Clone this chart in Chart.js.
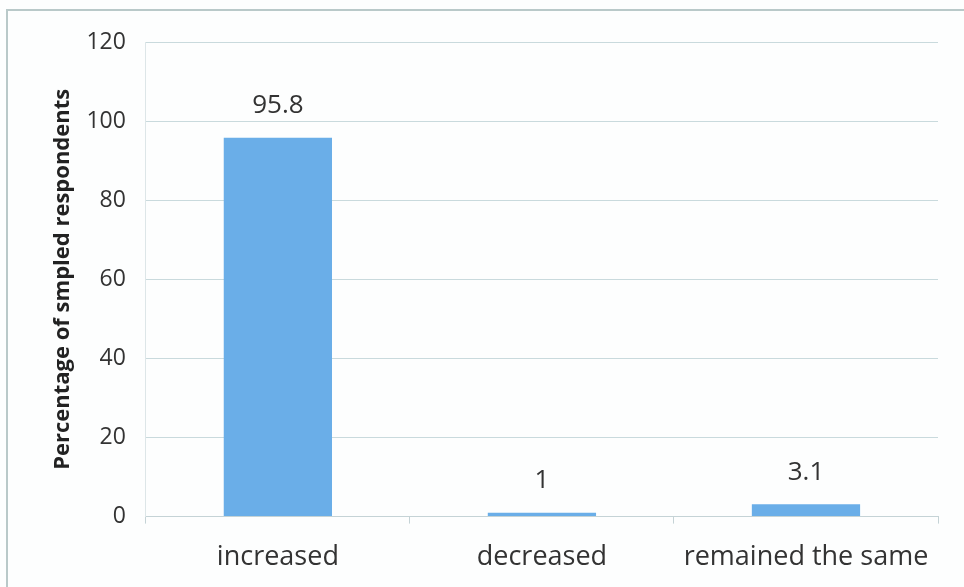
<!DOCTYPE html>
<html>
<head>
<meta charset="utf-8">
<script src="https://cdn.jsdelivr.net/npm/chart.js@4.4.1/dist/chart.umd.min.js"></script>
<style>
  html, body { margin: 0; padding: 0; background: #fdfefe; }
  #wrap { width: 964px; height: 587px; }
</style>
</head>
<body>
<div id="wrap"><canvas id="myChart"></canvas></div>
<script>
let labels = ['increased', 'decreased', 'remained the same'];
let values = [95.8, 1, 3.1];
let barColor = '#6aaee8';

// frame around the chart area plus value labels above each bar
let extras = {
    id: 'extras',
    beforeDraw(chart) {
        let ctx = chart.ctx;
        ctx.save();
        ctx.strokeStyle = '#b9c9c9';
        ctx.lineWidth = 2;
        ctx.strokeRect(7, 10, 1000, 1000);
        ctx.restore();
    },
    afterDatasetsDraw(chart) {
        let ctx = chart.ctx;
        let meta = chart.getDatasetMeta(0);
        ctx.save();
        ctx.fillStyle = '#333';
        ctx.font = '26px "Open Sans"';
        ctx.textAlign = 'center';
        ctx.textBaseline = 'bottom';
        meta.data.forEach((bar, i) => {
            ctx.fillText(values[i], bar.x, bar.y - 19);
        });
        ctx.restore();
    }
};

let myChart = document.getElementById('myChart').getContext('2d');

let chart = new Chart(myChart, {
    type: 'bar',
    data: {
        labels: labels,
        datasets: [{
            data: values,
            backgroundColor: barColor,
            categoryPercentage: 1,
            barPercentage: 0.41
        }]
    },
    options: {
        responsive: true,
        maintainAspectRatio: false,
        animation: false,
        layout: { padding: { left: 50, right: 26, top: 42, bottom: -5 } },
        plugins: {
            legend: { display: false },
            tooltip: { enabled: false }
        },
        scales: {
            x: {
                grid: {
                    display: true,
                    drawOnChartArea: false,
                    offset: true,
                    color: '#c5d3d6',
                    tickLength: 7
                },
                border: { color: '#c5d3d6' },
                ticks: {
                    color: '#333',
                    font: { family: 'Open Sans', size: 27 },
                    padding: 18,
                    maxRotation: 0
                }
            },
            y: {
                min: 0,
                max: 120,
                ticks: {
                    stepSize: 20,
                    color: '#333',
                    font: { family: 'Open Sans', size: 23 },
                    padding: 20
                },
                grid: { color: '#c9dadd', tickLength: 0 },
                border: { color: '#dde6e8' },
                title: {
                    display: true,
                    text: 'Percentage of smpled respondents',
                    color: '#222',
                    font: { family: 'Open Sans', size: 22, weight: 'bold' },
                    padding: { top: 0, bottom: -10 }
                }
            }
        }
    },
    plugins: [extras]
});
</script>
</body>
</html>
